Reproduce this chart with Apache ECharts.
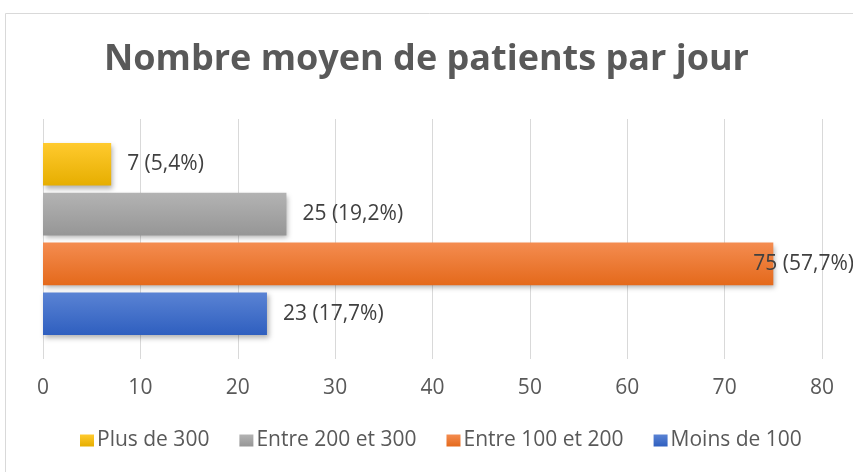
<!DOCTYPE html>
<html><head><meta charset="utf-8">
<script src="https://cdn.jsdelivr.net/npm/echarts@6/dist/echarts.min.js"></script>
<style>html,body{margin:0;padding:0;background:#fff}#c{width:853px;height:472px}</style>
</head><body><div id="c"></div>
<script>
const categories = ['Nombre moyen'];
const seriesNames = ['Plus de 300', 'Entre 200 et 300', 'Entre 100 et 200', 'Moins de 100'];
const seriesValues = [7, 25, 75, 23];
const seriesPercents = ['5,4%', '19,2%', '57,7%', '17,7%'];
const xTicks = [0, 10, 20, 30, 40, 50, 60, 70, 80];

const gradients = [
  ['#ffca2e', '#e6ae00'],
  ['#b3b3b3', '#969696'],
  ['#f48c50', '#e4691b'],
  ['#5a83d4', '#2f5fbf']
];
const labelOffsets = [[0,0],[0,0],[-36,0],[0,0]];

const chart = echarts.init(document.getElementById('c'));
chart.setOption({
  animation: false,
  title: {
    text: 'Nombre moyen de patients par jour',
    left: 'center', top: 37,
    textStyle: { fontFamily: 'Open Sans', fontWeight: 'bold', fontSize: 36, color: '#595959' }
  },
  graphic: [{
    type: 'rect', shape: { x: 5.5, y: 13.5, width: 900, height: 500 },
    style: { fill: 'none', stroke: '#d9d9d9', lineWidth: 1 }, silent: true, z: -1
  }],
  grid: { left: 43, right: 31, top: 119, bottom: 113 },
  legend: {
    data: seriesNames, bottom: 16, left: 75,
    itemWidth: 14, itemHeight: 12, itemGap: 30,
    icon: 'rect',
    textStyle: { fontFamily: 'Open Sans', fontSize: 21, color: '#595959', padding: [0,0,0,-2] }
  },
  xAxis: {
    type: 'value', min: 0, max: 80, interval: 10,
    axisLine: { show: false }, axisTick: { show: false },
    splitLine: { lineStyle: { color: '#d9d9d9' } },
    axisLabel: { fontFamily: 'Open Sans', fontSize: 21, color: '#595959', margin: 19,
      formatter: v => xTicks.includes(v) ? String(v) : '' }
  },
  yAxis: {
    type: 'category', data: categories,
    axisLine: { show: false }, axisTick: { show: false }, axisLabel: { show: false }
  },
  series: seriesNames.map((name, i) => ({
    name, type: 'bar', data: [seriesValues[i]],
    barGap: '17%', barCategoryGap: '20%',
    itemStyle: {
      color: new echarts.graphic.LinearGradient(0, 0, 0, 1, [
        { offset: 0, color: gradients[i][0] }, { offset: 1, color: gradients[i][1] }
      ]),
      shadowBlur: 5, shadowOffsetX: 2, shadowOffsetY: 3, shadowColor: 'rgba(0,0,0,0.3)'
    },
    label: {
      show: true, position: 'right', distance: 16, offset: labelOffsets[i],
      fontFamily: 'Open Sans', fontSize: 21, color: '#404040',
      formatter: () => seriesValues[i] + ' (' + seriesPercents[i] + ')'
    }
  }))
});
</script></body></html>
